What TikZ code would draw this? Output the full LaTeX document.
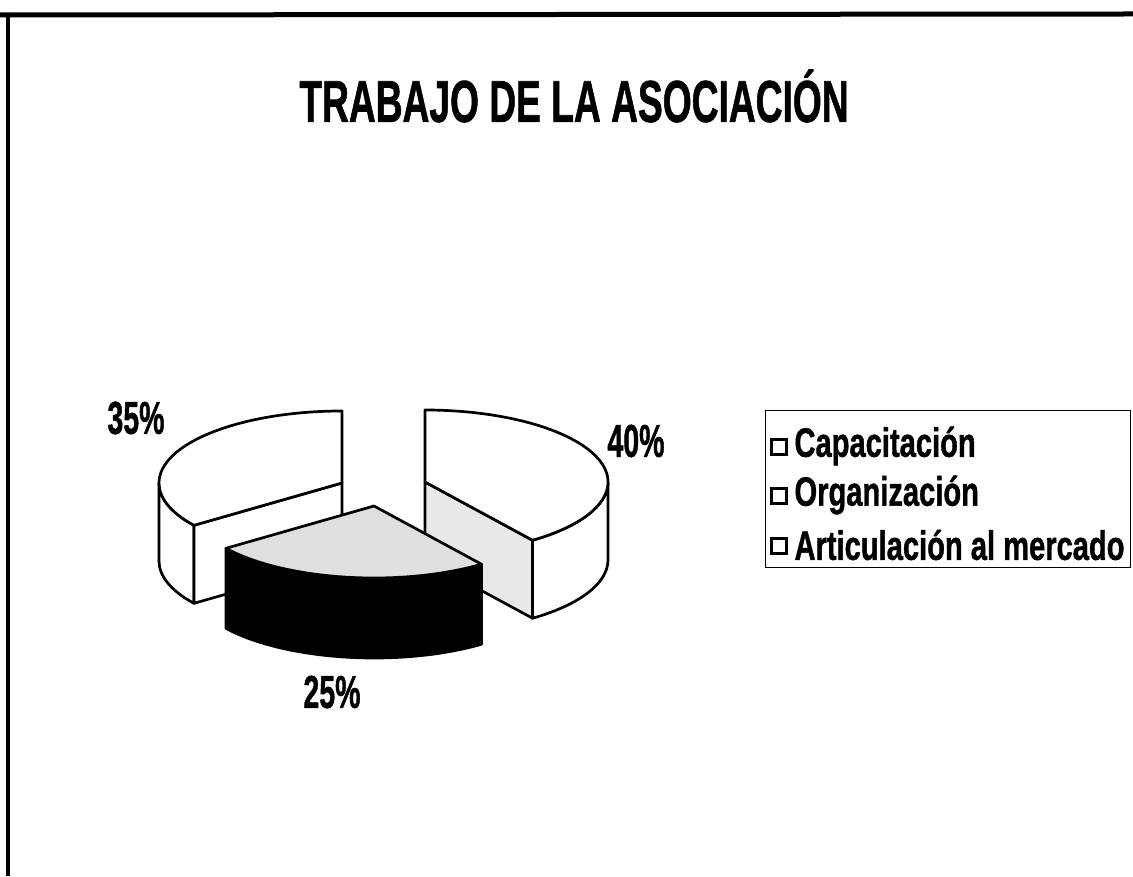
\documentclass[tikz,border=0pt]{standalone}
\usepackage{fontspec}
\setmainfont{Liberation Sans}[BoldFeatures={FakeBold=1.3}]
\usepackage{graphicx}
\newcommand{\narrow}[2]{\scalebox{#1}[1]{#2}}

\begin{document}
\begin{tikzpicture}[x=1pt,y=1pt,
  slice/.style={draw=black, line width=2.7pt, line join=round},
  pct/.style={font=\fontsize{46}{48}\selectfont\bfseries},
  legtext/.style={font=\fontsize{41}{44}\selectfont\bfseries, anchor=west},
  legkey/.style={draw, line width=2.2pt, fill=white, minimum size=15pt, inner sep=0pt}]
\useasboundingbox (0,0) rectangle (1133,876);

% frame
\draw[line width=5pt] (0,861) -- (1133,862);
\draw[line width=4pt] (8,863) -- (8,0);

% title
\node[font=\fontsize{59}{62}\selectfont\bfseries] (title) at (574,780) {\narrow{0.63}{TRABAJO DE LA ASOCIACIÓN}};

% slice apexes
\coordinate (L) at (342,393);
\coordinate (R) at (425,394);
\coordinate (M) at (374,370);

% 35%
\begin{scope}[shift={(L)}]
\filldraw[slice, fill=white] (180:183 and 72) arc[start angle=180, end angle=216, x radius=183, y radius=72] -- ++(0,-78) arc[start angle=216, end angle=180, x radius=183, y radius=72] -- cycle;
\filldraw[slice, fill=white] (0,0) -- (216:183 and 72) -- ++(0,-78) -- (0,-78) -- cycle;
\filldraw[slice, fill=white] (0,0) -- (90:183 and 72) arc[start angle=90, end angle=216, x radius=183, y radius=72] -- cycle;
\end{scope}

% 40%
\begin{scope}[shift={(R)}]
\filldraw[slice, fill=gray!18] (0,0) -- (-54:183 and 72) -- ++(0,-78) -- (0,-78) -- cycle;
\filldraw[slice, fill=white] (-54:183 and 72) arc[start angle=-54, end angle=0, x radius=183, y radius=72] -- ++(0,-78) arc[start angle=0, end angle=-54, x radius=183, y radius=72] -- cycle;
\filldraw[slice, fill=white] (0,0) -- (-54:183 and 72) arc[start angle=-54, end angle=90, x radius=183, y radius=72] -- cycle;
\end{scope}

% 25%
\begin{scope}[shift={(M)}]
\filldraw[slice, fill=black] (216:183 and 72) arc[start angle=216, end angle=306, x radius=183, y radius=72] -- ++(0,-80) arc[start angle=306, end angle=216, x radius=183, y radius=72] -- cycle;
\filldraw[slice, fill=gray!25] (0,0) -- (216:183 and 72) arc[start angle=216, end angle=306, x radius=183, y radius=72] -- cycle;
\end{scope}

% labels
\node[pct] (p35) at (136,458) {\narrow{0.62}{35\%}};
\node[pct] (p40) at (636,435) {\narrow{0.62}{40\%}};
\node[pct] (p25) at (332,184) {\narrow{0.62}{25\%}};

% legend
\node[draw, line width=1pt, minimum width=365pt, minimum height=157pt, anchor=north west, inner sep=0pt] (legend) at (765,466) {};
\node[legkey] (k1) at (779,429) {};
\node[legtext] (t1) at (791,430) {\narrow{0.71}{Capacitación}};
\node[legkey] (k2) at (779,380) {};
\node[legtext] (t2) at (791,381) {\narrow{0.71}{Organización}};
\node[legkey] (k3) at (779,330) {};
\node[legtext] (t3) at (791,331) {\narrow{0.71}{Articulación al mercado}};
\end{tikzpicture}
\end{document}
